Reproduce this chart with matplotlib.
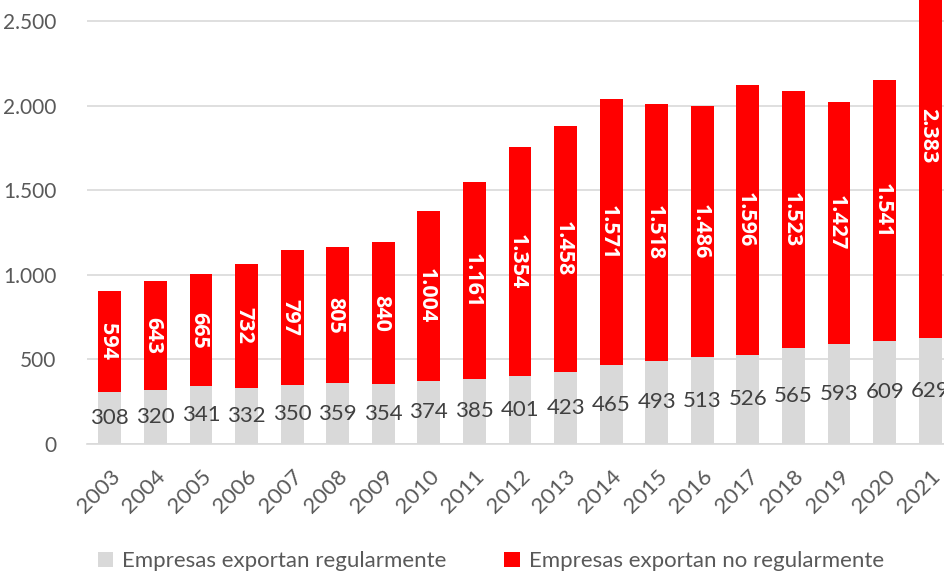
import matplotlib.pyplot as plt
import numpy as np

years = [str(y) for y in range(2003, 2022)]
regular = [308, 320, 341, 332, 350, 359, 354, 374, 385, 401, 423, 465, 493, 513, 526, 565, 593, 609, 629]
no_regular = [594, 643, 665, 732, 797, 805, 840, 1004, 1161, 1354, 1458, 1571, 1518, 1486, 1596, 1523, 1427, 1541, 2383]

def fmt(v):
    return f"{v:,}".replace(",", ".")

plt.rcParams['font.family'] = ['Lato', 'DejaVu Sans']

fig = plt.figure(figsize=(9.44, 5.77), dpi=100)
# the source image is cropped: plot area runs off the top and right edges
ax = fig.add_axes([87 / 944, 1 - 444 / 577, 866 / 944, 444 / 577])

x = np.arange(len(years))
w = 0.5
grey = '#D9D9D9'
red = '#FF0000'

b1 = ax.bar(x, regular, w, color=grey, label='Empresas exportan regularmente', zorder=2)
b2 = ax.bar(x, no_regular, w, bottom=regular, color=red, label='Empresas exportan no regularmente', zorder=2)

for i in range(len(years)):
    ax.text(x[i], regular[i] / 2, fmt(regular[i]), ha='center', va='center',
            fontsize=16, color='#404040', zorder=3)
    ax.text(x[i], regular[i] + no_regular[i] / 2, fmt(no_regular[i]), ha='center',
            va='center_baseline', rotation=270, rotation_mode='anchor',
            fontsize=15.5, color='white', fontweight='bold',
            family=['Open Sans', 'DejaVu Sans'], zorder=3)

ax.set_xlim(-0.5, len(years) - 0.5)
ax.set_ylim(0, 2624)
ax.set_yticks(range(0, 2501, 500))
ax.set_yticklabels([fmt(v) for v in range(0, 2501, 500)])
ax.set_xticks(x)
ax.set_xticklabels(years, rotation=45, ha='right', rotation_mode='anchor')
ax.tick_params(axis='y', length=0, labelsize=15, labelcolor='#595959', pad=22)
ax.tick_params(axis='x', length=0, labelsize=16, labelcolor='#595959', pad=16)

ax.grid(axis='y', color=grey, linewidth=1.2, zorder=0)
for s in ['top', 'right', 'left']:
    ax.spines[s].set_visible(False)
ax.spines['bottom'].set_color(grey)
ax.spines['bottom'].set_linewidth(1.2)

leg = fig.legend(handles=[b1, b2], loc='lower center', bbox_to_anchor=(0.52, -0.025), ncol=2,
                 frameon=False, fontsize=16, handlelength=0.7, handleheight=0.7,
                 columnspacing=2.6, handletextpad=0.4)
for t in leg.get_texts():
    t.set_color('#595959')

fig.savefig('out.png', dpi=100)
